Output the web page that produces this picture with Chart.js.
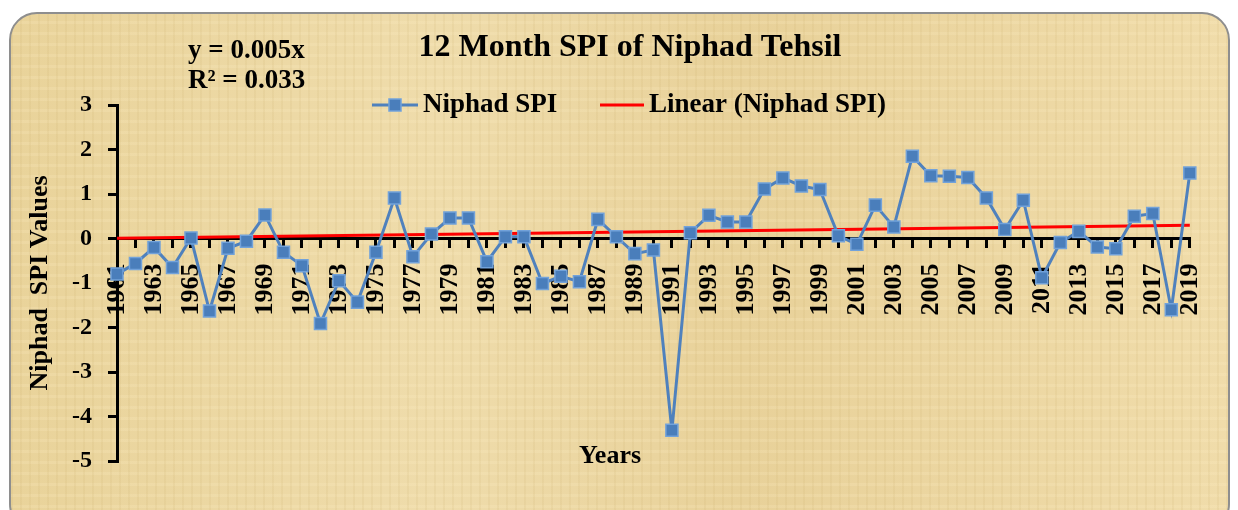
<!DOCTYPE html>
<html>
<head>
<meta charset="utf-8">
<script src="https://cdn.jsdelivr.net/npm/chart.js@4.4.0/dist/chart.umd.min.js"></script>
<style>
  html,body{margin:0;padding:0;background:#fff;}
  #wrap{position:relative;width:1238px;height:510px;overflow:hidden;}
  #card{
    position:absolute;left:9px;top:12px;width:1221px;height:520px;
    border:2px solid #8e8e8e;border-radius:28px;box-sizing:border-box;
    background-color:#ecd7a2;
    background-image:
      repeating-linear-gradient(90deg, rgba(190,160,90,.10) 0px, rgba(190,160,90,.10) 2px, transparent 2px, transparent 9px),
      repeating-linear-gradient(0deg, rgba(255,240,200,.18) 0px, rgba(255,240,200,.18) 3px, transparent 3px, transparent 11px),
      linear-gradient(90deg, #e9d39a 0%, #efdcab 35%, #e8d199 60%, #f0dcaa 100%);
  }
  canvas{position:absolute;left:0;top:0;}
</style>
</head>
<body>
<div id="wrap">
  <div id="card"></div>
  <canvas id="spiChart" width="1238" height="510"></canvas>
</div>
<script>
// ===== Datos =====
const years = [];
for (let y = 1961; y <= 2019; y++) years.push(String(y));

const niphadSPI = [
  -0.80, -0.56, -0.20, -0.65, 0.01, -1.63, -0.22, -0.06, 0.53, -0.31,
  -0.61, -1.91, -0.95, -1.43, -0.31, 0.91, -0.41, 0.10, 0.46, 0.46,
  -0.52, 0.04, 0.04, -1.01, -0.85, -0.97, 0.43, 0.04, -0.34, -0.26,
  -4.31, 0.13, 0.52, 0.37, 0.37, 1.11, 1.36, 1.18, 1.10, 0.06,
  -0.13, 0.75, 0.26, 1.85, 1.41, 1.40, 1.37, 0.91, 0.20, 0.86,
  -0.88, -0.09, 0.16, -0.19, -0.23, 0.50, 0.56, -1.60, 1.47
];

// tendencia lineal: solo extremos (y = 0.005x)
const trendStart = 0.005;
const trendEnd = 0.295;
const trendLine = years.map((_, i) => i === 0 ? trendStart : (i === years.length - 1 ? trendEnd : null));

const yTicks = [3, 2, 1, 0, -1, -2, -3, -4, -5];

const chartTitle = '12 Month SPI of Niphad Tehsil';
const equationText = ['y = 0.005x', 'R\u00B2 = 0.033'];
const xTitle = 'Years';
const yTitle = 'Niphad  SPI Values';

const FONT = '"Liberation Serif", "Times New Roman", serif';

// ===== Textos sueltos (titulo, leyenda, ecuacion) =====
const textPlugin = {
  id: 'textos',
  afterDraw(chart){
    const ctx = chart.ctx;
    ctx.save();
    ctx.fillStyle = '#000';
    ctx.textBaseline = 'middle';

    // titulo
    ctx.font = 'bold 32px ' + FONT;
    ctx.textAlign = 'center';
    ctx.fillText(chartTitle, 630, 48);

    // ecuacion
    ctx.font = 'bold 27px ' + FONT;
    ctx.textAlign = 'left';
    ctx.fillText(equationText[0], 188, 51);
    ctx.fillText(equationText[1], 188, 81);

    // eje x titulo
    ctx.font = 'bold 26px ' + FONT;
    ctx.textAlign = 'center';
    ctx.fillText(xTitle, 610, 456);

    // leyenda
    const ds = chart.data.datasets;
    const ly = 105;
    ctx.font = 'bold 27px ' + FONT;
    ctx.textAlign = 'left';
    // serie
    ctx.strokeStyle = ds[0].borderColor;
    ctx.lineWidth = 3;
    ctx.beginPath(); ctx.moveTo(372, ly); ctx.lineTo(418, ly); ctx.stroke();
    ctx.fillStyle = ds[0].pointBackgroundColor;
    ctx.fillRect(389, ly - 6, 12, 12);
    ctx.strokeStyle = ds[0].pointBorderColor;
    ctx.lineWidth = 1.5;
    ctx.strokeRect(389, ly - 6, 12, 12);
    ctx.fillStyle = '#000';
    ctx.fillText(ds[0].label, 423, ly);
    // tendencia
    ctx.strokeStyle = ds[1].borderColor;
    ctx.lineWidth = 3;
    ctx.beginPath(); ctx.moveTo(600, ly); ctx.lineTo(644, ly); ctx.stroke();
    ctx.fillText(ds[1].label, 649, ly);
    ctx.restore();
  }
};

const ctx = document.getElementById('spiChart').getContext('2d');
new Chart(ctx, {
  type: 'line',
  data: {
    labels: years,
    datasets: [
      {
        label: 'Niphad SPI',
        data: niphadSPI,
        borderColor: '#4f81bd',
        borderWidth: 3,
        pointStyle: 'rect',
        pointRadius: 8.5,
        pointBackgroundColor: '#4a7ebb',
        pointBorderColor: '#72a2da',
        pointBorderWidth: 1.5,
        tension: 0,
        fill: false
      },
      {
        label: 'Linear (Niphad SPI)',
        data: trendLine,
        borderColor: '#ff0000',
        borderWidth: 3,
        pointRadius: 0,
        spanGaps: true,
        fill: false
      }
    ]
  },
  options: {
    responsive: false,
    animation: false,
    layout: { padding: { top: 105, right: 16, bottom: 49, left: 0 } },
    plugins: {
      legend: { display: false },
      title: { display: false },
      tooltip: { enabled: false }
    },
    scales: {
      x: {
        type: 'category',
        position: { y: 0 },
        offset: false,
        grid: { display: true, drawOnChartArea: false, drawTicks: true, tickLength: 8, color: '#000', lineWidth: 3 },
        border: { display: true, color: '#000', width: 3 },
        ticks: {
          autoSkip: false,
          minRotation: 90,
          maxRotation: 90,
          padding: 17,
          color: '#000',
          font: { family: FONT, size: 26, weight: 'bold' },
          callback: (v, i) => (i % 2 === 0 ? years[i] : '')
        }
      },
      y: {
        min: yTicks[yTicks.length - 1],
        max: yTicks[0],
        afterFit(scale){ scale.width = 117; },
        grid: { display: true, drawOnChartArea: false, drawTicks: true, tickLength: 9, color: '#000', lineWidth: 3 },
        border: { display: true, color: '#000', width: 3 },
        ticks: {
          stepSize: 1,
          padding: 16,
          color: '#000',
          font: { family: FONT, size: 24, weight: 'bold' }
        },
        title: {
          display: true,
          text: yTitle,
          color: '#000',
          padding: { top: 25, bottom: 0 },
          font: { family: FONT, size: 26, weight: 'bold' }
        }
      }
    }
  },
  plugins: [textPlugin]
});
</script>
</body>
</html>
